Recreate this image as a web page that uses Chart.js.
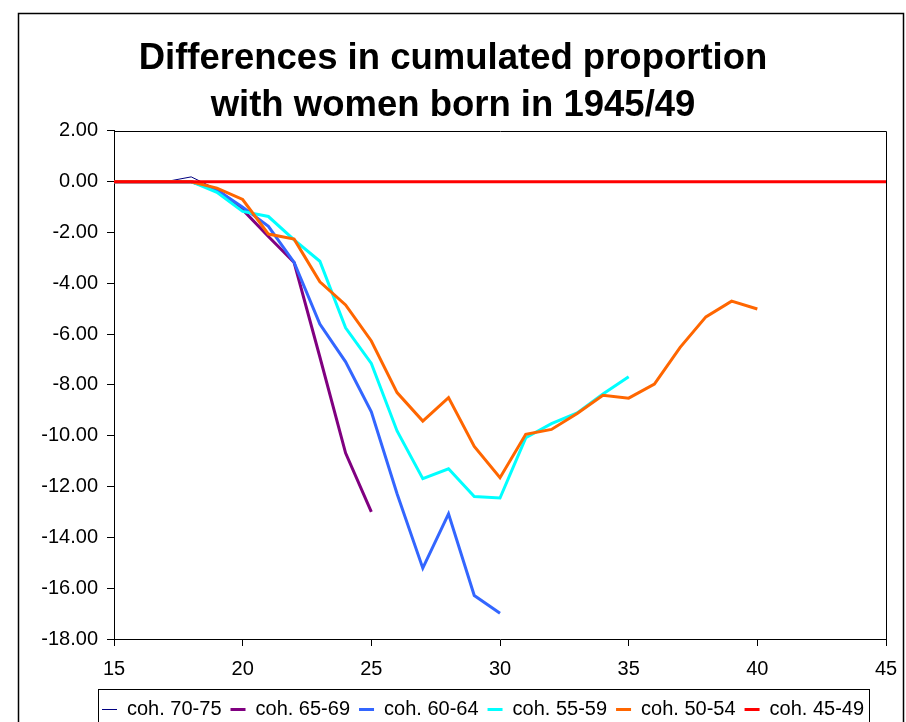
<!DOCTYPE html>
<html>
<head>
<meta charset="utf-8">
<script src="https://cdn.jsdelivr.net/npm/chart.js@4.4.1/dist/chart.umd.min.js"></script>
<style>
html,body{margin:0;padding:0;background:#fff;}
canvas{display:block;}
</style>
</head>
<body>
<canvas id="c" width="906" height="722"></canvas>
<script>
// ---- data (age on x, difference in cumulated proportion on y) ----
const ages = [15,16,17,18,19,20,21,22,23,24,25,26,27,28,29,30,31,32,33,34,35,36,37,38,39,40,41,42,43,44,45];
const cohortLabels = ['coh. 70-75','coh. 65-69','coh. 60-64','coh. 55-59','coh. 50-54','coh. 45-49'];
const coh7075 = [0,0,0,0.19,-0.30,-1.00];
const coh6569 = [0,0,0,0,-0.30,-1.10,-2.16,-3.18,-6.90,-10.68,-13.00];
const coh6064 = [0,0,0,0,-0.32,-1.00,-1.76,-3.18,-5.60,-7.09,-9.06,-12.28,-15.21,-13.07,-16.29,-16.99];
const coh5559 = [0,0,0,0,-0.42,-1.17,-1.37,-2.29,-3.13,-5.75,-7.15,-9.81,-11.69,-11.30,-12.39,-12.45,-10.08,-9.52,-9.10,-8.36,-7.68];
const coh5054 = [0,0,0,0,-0.25,-0.70,-2.06,-2.26,-3.94,-4.85,-6.27,-8.30,-9.42,-8.50,-10.42,-11.65,-9.94,-9.75,-9.12,-8.41,-8.52,-7.97,-6.52,-5.32,-4.70,-5.01];
const coh4549 = [0,0,0,0,0,0,0,0,0,0,0,0,0,0,0,0,0,0,0,0,0,0,0,0,0,0,0,0,0,0,0];
const xTickValues = [15,20,25,30,35,40,45];
const yTickValues = [2,0,-2,-4,-6,-8,-10,-12,-14,-16,-18];
const titleLines = ['Differences in cumulated proportion','with women born in 1945/49'];

// ---- styling ----
const series = [coh7075, coh6569, coh6064, coh5559, coh5054, coh4549];
const lineColors = ['#000080','#800080','#3366FF','#00FFFF','#FF6600','#FF0000'];
const lineWidths = [1,3,3,3,3,3];

Chart.defaults.font.family = "'Liberation Sans', Arial, sans-serif";
Chart.defaults.color = '#000';

const datasets = series.map((vals, i) => ({
  label: cohortLabels[i],
  data: vals.map((v, j) => ({x: ages[j], y: v})),
  borderColor: lineColors[i],
  backgroundColor: lineColors[i],
  borderWidth: lineWidths[i],
  pointRadius: 0,
  pointHoverRadius: 0,
  tension: 0,
  fill: false,
  order: series.length - 1 - i
}));

const framePlugin = {
  id: 'frame',
  beforeDraw(chart) {
    const ctx = chart.ctx;
    ctx.save();
    ctx.fillStyle = '#fff';
    ctx.fillRect(0, 0, chart.width, chart.height);
    ctx.strokeStyle = '#000';
    ctx.lineWidth = 1.5;
    ctx.strokeRect(18.5, 13.5, chart.width - 21, chart.height + 40);
    ctx.restore();
  },
  beforeDatasetsDraw(chart) {
    const a = chart.chartArea, ctx = chart.ctx;
    ctx.save();
    ctx.strokeStyle = '#000';
    ctx.lineWidth = 1;
    ctx.beginPath();
    ctx.moveTo(Math.round(a.left) + 0.5, Math.round(a.top) + 0.5);
    ctx.lineTo(Math.round(a.right) + 0.5, Math.round(a.top) + 0.5);
    ctx.lineTo(Math.round(a.right) + 0.5, Math.round(a.bottom) + 0.5);
    ctx.stroke();
    ctx.restore();
  }
};

const legendPlace = {
  id: 'legendPlace',
  afterLayout(chart) {
    const lg = chart.legend;
    const pad = lg.options.labels.padding;
    const dx = 102 - (lg.left + pad);
    const dy = 7.5;
    lg.left += dx; lg.right += dx;
    lg.top += dy; lg.bottom += dy;
    const tb = chart.titleBlock;
    if (tb) { tb.left += 10; tb.right += 10; }
  },
  afterDraw(chart) {
    const lg = chart.legend;
    const hb = lg.legendHitBoxes;
    if (!hb || !hb.length) return;
    const last = hb[hb.length - 1];
    const left = hb[0].left - 4.5;
    const right = last.left + last.width + 4;
    const top = hb[0].top - 11;
    const ctx = chart.ctx;
    ctx.save();
    ctx.strokeStyle = '#000';
    ctx.lineWidth = 1;
    ctx.strokeRect(Math.round(left) + 0.5, Math.round(top) + 0.5, Math.round(right - left), 80);
    ctx.restore();
  }
};

new Chart(document.getElementById('c'), {
  type: 'line',
  data: { datasets },
  options: {
    responsive: false,
    animation: false,
    devicePixelRatio: 1,
    layout: { padding: { top: 35, left: 0, right: 20, bottom: 0 } },
    plugins: {
      title: {
        display: true,
        text: titleLines,
        color: '#000',
        font: { size: 36.5, weight: 'bold', lineHeight: 1.3 },
        padding: { top: 0, bottom: 1 }
      },
      legend: {
        display: true,
        position: 'bottom',
        align: 'start',
        labels: {
          usePointStyle: true,
          pointStyle: 'line',
          pointStyleWidth: 15,
          padding: 9,
          color: '#000',
          font: { size: 20 },
          sort: (a, b) => a.datasetIndex - b.datasetIndex
        }
      },
      tooltip: { enabled: false }
    },
    scales: {
      x: {
        type: 'linear',
        min: 15,
        max: 45,
        afterBuildTicks: s => { s.ticks = xTickValues.map(v => ({value: v})); },
        afterFit: s => { s.height = 44; s.paddingRight = 0; s.paddingLeft = 0; },
        grid: { drawOnChartArea: false, drawTicks: true, tickLength: 7, color: '#000' },
        border: { display: true, color: '#000', width: 1 },
        ticks: { color: '#000', font: { size: 20 }, padding: 11, maxRotation: 0 }
      },
      y: {
        type: 'linear',
        min: -18,
        max: 2,
        afterBuildTicks: s => { s.ticks = yTickValues.map(v => ({value: v})); },
        afterFit: s => { s.width = 114; },
        grid: { drawOnChartArea: false, drawTicks: true, tickLength: 7, color: '#000' },
        border: { display: true, color: '#000', width: 1 },
        ticks: { color: '#000', font: { size: 20 }, padding: 9, callback: v => Number(v).toFixed(2) }
      }
    }
  },
  plugins: [framePlugin, legendPlace]
});
</script>
</body>
</html>
